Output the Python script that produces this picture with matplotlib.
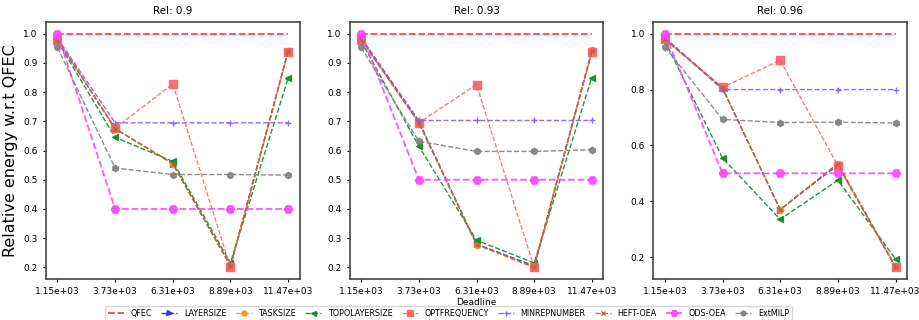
import numpy as np
import matplotlib
matplotlib.use('Agg')
import matplotlib.pyplot as plt

# deadlines (x) and their tick labels
deadlines = [1150, 3730, 6310, 8890, 11470]
tick_labels = ['1.15e+03', '3.73e+03', '6.31e+03', '8.89e+03', '11.47e+03']
rels = ['0.9', '0.93', '0.96']

# relative energy per algorithm, one list per reliability panel
qfec = [[1.0, 1.0, 1.0, 1.0, 1.0],
        [1.0, 1.0, 1.0, 1.0, 1.0],
        [1.0, 1.0, 1.0, 1.0, 1.0]]
layersize = [[0.98, 0.675, 0.555, 0.205, 0.94],
             [0.985, 0.70, 0.28, 0.205, 0.94],
             [0.985, 0.805, 0.37, 0.53, 0.165]]
tasksize = [[0.98, 0.675, 0.555, 0.205, 0.94],
            [0.98, 0.695, 0.278, 0.20, 0.945],
            [0.98, 0.805, 0.37, 0.535, 0.165]]
topolayersize = [[0.975, 0.645, 0.563, 0.215, 0.848],
                 [0.975, 0.615, 0.293, 0.215, 0.85],
                 [0.975, 0.555, 0.335, 0.475, 0.193]]
optfrequency = [[0.98, 0.677, 0.828, 0.20, 0.938],
                [0.98, 0.695, 0.826, 0.20, 0.937],
                [0.98, 0.808, 0.905, 0.527, 0.163]]
minrepnumber = [[0.985, 0.695, 0.695, 0.695, 0.695],
                [0.985, 0.703, 0.703, 0.703, 0.703],
                [0.985, 0.80, 0.80, 0.80, 0.80]]
heft_oea = [[0.98, 0.675, 0.555, 0.205, 0.94],
            [0.98, 0.695, 0.278, 0.20, 0.94],
            [0.98, 0.805, 0.37, 0.535, 0.165]]
ods_oea = [[1.0, 0.4, 0.4, 0.4, 0.4],
           [1.0, 0.5, 0.5, 0.5, 0.5],
           [1.0, 0.5, 0.5, 0.5, 0.5]]
extmilp = [[0.953, 0.54, 0.518, 0.518, 0.516],
           [0.953, 0.632, 0.597, 0.597, 0.603],
           [0.953, 0.693, 0.682, 0.683, 0.68]]

series = [
    ('QFEC', qfec, '#ff3030', None, 1.3, 1.0),
    ('LAYERSIZE', layersize, '#2a2ad0', '>', 1.0, 4.5),
    ('TASKSIZE', tasksize, '#ff8c1a', 'o', 1.0, 4.5),
    ('TOPOLAYERSIZE', topolayersize, '#0b8a2a', '<', 1.0, 4.5),
    ('OPTFREQUENCY', optfrequency, '#ff6060', 's', 0.9, 5.5),
    ('MINREPNUMBER', minrepnumber, '#8a5cf6', '+', 1.0, 4.5),
    ('HEFT-OEA', heft_oea, '#b0683a', 'x', 1.0, 3.5),
    ('ODS-OEA', ods_oea, '#ff44ff', 'H', 1.3, 6),
    ('ExtMILP', extmilp, '#808080', 'h', 1.0, 4.5),
]

fig, axs = plt.subplots(1, 3, figsize=(9.19, 3.2), dpi=100)
fig.subplots_adjust(left=0.050, right=0.987, top=0.931, bottom=0.128, wspace=0.197)

for i, ax in enumerate(axs):
    for name, vals, color, marker, lw, ms in series:
        ax.plot(deadlines, vals[i], linestyle='--', color=color, marker=marker,
                linewidth=lw, markersize=ms, alpha=0.9, label=name)
    ax.set_title(f'Rel: {rels[i]}', fontsize=7.5)
    ax.set_xticks(deadlines)
    ax.set_xticklabels(tick_labels)
    ax.tick_params(axis='both', labelsize=6.5, length=2.5)
    for sp in ax.spines.values():
        sp.set_color('#444444')
        sp.set_linewidth(1.2)

axs[0].set_ylabel('Relative energy w.r.t QFEC', fontsize=11.5)
axs[1].set_xlabel('Deadline', fontsize=6.5, labelpad=1)

handles, labels = axs[0].get_legend_handles_labels()
fig.legend(handles, labels, loc='lower center', ncol=9, fontsize=5.8,
           bbox_to_anchor=(0.488, -0.015), frameon=True, handlelength=2.0,
           columnspacing=1.15, borderpad=0.35, markerscale=0.8)

plt.savefig('out.png', dpi=100)
